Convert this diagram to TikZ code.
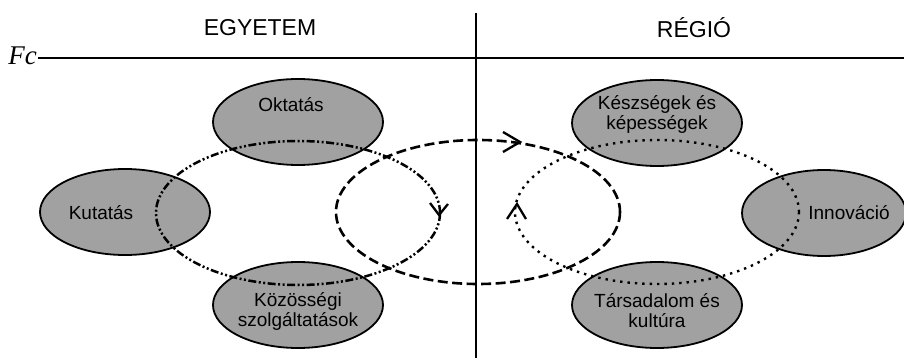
\documentclass[tikz,border=0pt]{standalone}
\usepackage{fontspec}
\setmainfont{Liberation Sans}
\newfontfamily\titlefont{Liberation Serif}
\usetikzlibrary{shapes.geometric}
\tikzset{
  blob/.style={ellipse,draw=black,line width=1.8pt,fill=black!37,
    minimum width=170pt,minimum height=86pt,inner sep=0pt},
  lbl/.style={align=center,inner sep=0pt,font=\fontsize{19}{20}\selectfont},
  barb/.style={line width=2.3pt,line join=miter},
  ddotline/.style={line width=2.5pt,
    dash pattern=on 8pt off 2.5pt on 2pt off 2.5pt on 2pt off 2.5pt},
  dashline/.style={line width=2.6pt,dash pattern=on 10pt off 4.5pt},
  dotline/.style={line width=2.4pt,dash pattern=on 2.4pt off 5pt}
}
\begin{document}
\begin{tikzpicture}[x=1pt,y=-1pt]
  \useasboundingbox (0,0) rectangle (904,358);
  % frame
  \coordinate (hl) at (38,58);
  \coordinate (hr) at (904,58);
  \coordinate (vt) at (476,13);
  \coordinate (vb) at (476,358);
  \draw[line width=2.5pt] (hl) -- (hr);
  \draw[line width=2.5pt] (vt) -- (vb);
  \node[font=\fontsize{23}{26}\selectfont] (egy) at (260,28) {EGYETEM};
  \node[font=\fontsize{23}{26}\selectfont] (reg) at (694,28) {RÉGIÓ};
  \node[font=\titlefont\itshape\fontsize{27}{28}\selectfont,anchor=east,inner sep=0pt] (fc) at (37,56) {Fc};
  % ellipses
  \node[blob] (okt) at (298,122) {};
  \node[blob] (kut) at (125,212) {};
  \node[blob] (koz) at (298,305) {};
  \node[blob] (kesz) at (657,123) {};
  \node[blob,minimum width=164pt] (inno) at (824,213) {};
  \node[blob] (tars) at (657,305) {};
  \node[lbl] (oktl) at (291,105) {Oktatás};
  \node[lbl] (kutl) at (101,213) {Kutatás};
  \node[lbl] (kozl) at (298,311) {Közösségi\\szolgáltatások};
  \node[lbl] (keszl) at (657,114) {Készségek és\\képességek};
  \node[lbl] (innol) at (849,213) {Innováció};
  \node[lbl] (tarsl) at (657,311) {Társadalom és\\kultúra};
  % cycles
  \draw[ddotline] (298,213) ellipse [x radius=142,y radius=72];
  \draw[dashline] (478,212) ellipse [x radius=142,y radius=72];
  \draw[dotline] (657,212) ellipse [x radius=142,y radius=72];
  % arrow heads
  \coordinate (tipl) at (439,215);
  \coordinate (tipm) at (520,142);
  \coordinate (tipr) at (517,204);
  \draw[barb] (430,203) -- (tipl) -- (448,204);
  \draw[barb] (503,132) -- (tipm) -- (503,152);
  \draw[barb] (507,219) -- (tipr) -- (526,219);
\end{tikzpicture}
\end{document}
